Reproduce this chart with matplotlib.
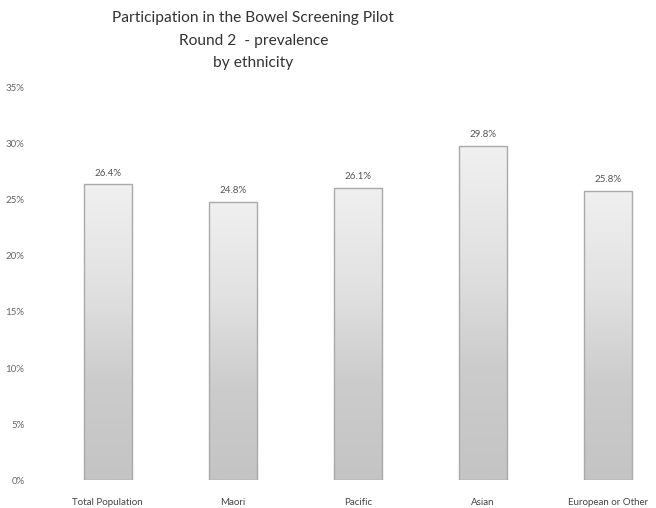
import numpy as np
import matplotlib.pyplot as plt
from matplotlib.colors import LinearSegmentedColormap

# Chart data
categories = ['Total Population', 'Maori', 'Pacific', 'Asian', 'European or Other']
values = [26.4, 24.8, 26.1, 29.8, 25.8]
yticks = [0, 5, 10, 15, 20, 25, 30, 35]
title_lines = ['Participation in the Bowel Screening Pilot', 'Round 2  - prevalence', 'by ethnicity']

plt.rcParams['font.family'] = ['Lato', 'DejaVu Sans']

fig = plt.figure(figsize=(6.56, 5.08), dpi=100)
ax = fig.add_axes([0.069, 0.055, 0.953, 0.772])

x = np.arange(len(categories))
bar_w = 0.38
bars = ax.bar(x, values, width=bar_w, facecolor='none', edgecolor='#a9a9a9', linewidth=1.0, zorder=3)

# vertical gradient fill: light at top, grey at bottom
cmap = LinearSegmentedColormap.from_list('g', ['#c4c4c4', '#cccccc', '#e2e2e2', '#f0f0f0'])
grad = np.linspace(0, 1, 256).reshape(-1, 1)
for b in bars:
    x0, y0, w, h = b.get_x(), b.get_y(), b.get_width(), b.get_height()
    im = ax.imshow(grad, cmap=cmap, aspect='auto', origin='lower',
                   extent=[x0, x0 + w, y0, y0 + h], zorder=2)
    im.set_clip_path(b)
    ax.text(x0 + w / 2, h + 0.6, f'{h:.1f}%', ha='center', va='bottom',
            fontsize=7, color='#555555')

ax.set_xlim(-0.5, len(categories) - 0.5)
ax.set_ylim(0, 35)
ax.set_yticks(yticks)
ax.set_yticklabels([f'{t}%' for t in yticks], fontsize=7, color='#666666')
ax.set_xticks(x)
ax.set_xticklabels(categories, fontsize=7, color='#444444')
ax.tick_params(axis='both', length=0)
ax.tick_params(axis='y', pad=15)
ax.tick_params(axis='x', pad=13)
for s in ax.spines.values():
    s.set_visible(False)

for i, line in enumerate(title_lines):
    fig.text(0.386, 1 - (18 + 22.5 * i) / 508, line, ha='center', va='center',
             fontsize=11.2, color='#333333')

fig.savefig('out.png', dpi=100)
